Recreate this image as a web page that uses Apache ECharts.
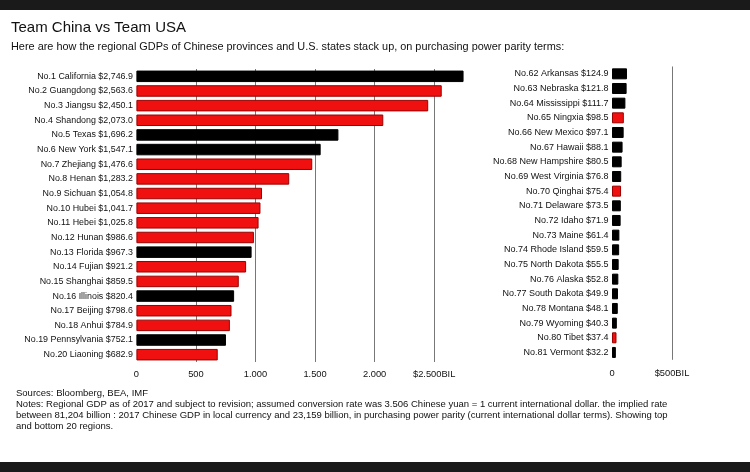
<!DOCTYPE html>
<html>
<head>
<meta charset="utf-8">
<script src="https://cdn.jsdelivr.net/npm/echarts@6/dist/echarts.min.js"></script>
<style>
html,body{margin:0;padding:0;background:#fff;}
#c{width:750px;height:472px;}
</style>
</head>
<body>
<div id="c"></div>
<script>
// ---- data ----
const topRanks = [1,2,3,4,5,6,7,8,9,10,11,12,13,14,15,16,17,18,19,20];
const topNames = ['California','Guangdong','Jiangsu','Shandong','Texas','New York','Zhejiang','Henan','Sichuan','Hubei','Hebei','Hunan','Florida','Fujian','Shanghai','Illinois','Beijing','Anhui','Pennsylvania','Liaoning'];
const topValues = [2746.9,2563.6,2450.1,2073.0,1696.2,1547.1,1476.6,1283.2,1054.8,1041.7,1025.8,986.6,967.3,921.2,859.5,820.4,798.6,784.9,752.1,682.9];
const topCountry = ['US','CN','CN','CN','US','US','CN','CN','CN','CN','CN','CN','US','CN','CN','US','CN','CN','US','CN'];

const bottomRanks = [62,63,64,65,66,67,68,69,70,71,72,73,74,75,76,77,78,79,80,81];
const bottomNames = ['Arkansas','Nebraska','Mississippi','Ningxia','New Mexico','Hawaii','New Hampshire','West Virginia','Qinghai','Delaware','Idaho','Maine','Rhode Island','North Dakota','Alaska','South Dakota','Montana','Wyoming','Tibet','Vermont'];
const bottomValues = [124.9,121.8,111.7,98.5,97.1,88.1,80.5,76.8,75.4,73.5,71.9,61.4,59.5,55.5,52.8,49.9,48.1,40.3,37.4,32.2];
const bottomCountry = ['US','US','US','CN','US','US','US','US','CN','US','US','US','US','US','US','US','US','US','CN','US'];

const topTickLabels = ['0','500','1.000','1.500','2.000','$2.500BIL'];
const bottomTickLabels = ['0','$500BIL'];
const tickStep = 500;

// ---- helpers ----
function fmt(v){
  const s = v.toFixed(1);
  const parts = s.split('.');
  parts[0] = parts[0].replace(/\B(?=(\d{3})+(?!\d))/g, ',');
  return '$' + parts.join('.');
}
function cats(ranks, names, values){
  return names.map((n,i)=>'No.' + ranks[i] + ' ' + n + ' ' + fmt(values[i]));
}
const RED = '#f01010', RED_B = '#9a0000', BLK = '#000';
function items(values, country){
  return values.map((v,i)=>({
    value: v,
    itemStyle: country[i]==='CN'
      ? {color: RED, borderColor: RED_B, borderWidth: 1}
      : {color: BLK, borderColor: BLK, borderWidth: 1}
  }));
}
function tickFmt(labels){
  return function(v){
    const k = Math.round(v / tickStep);
    return (Math.abs(v - k*tickStep) < 1e-6 && labels[k] !== undefined) ? labels[k] : '';
  };
}

const FONT = '"Liberation Sans", Arial, sans-serif';
const chart = echarts.init(document.getElementById('c'), null, {renderer:'canvas'});

const notes = 'Notes: Regional GDP as of 2017 and subject to revision; assumed conversion rate was 3.506 Chinese yuan = 1 current international dollar. the implied rate\n' +
  'between 81,204 billion : 2017 Chinese GDP in local currency and 23,159 billion, in purchasing power parity (current international dollar terms). Showing top\n' +
  'and bottom 20 regions.';

chart.setOption({
  animation: false,
  backgroundColor: '#fff',
  textStyle: {fontFamily: FONT},
  graphic: [
    {type:'rect', left:0, top:0, shape:{width:750, height:10}, style:{fill:'#1a1a1a'}},
    {type:'rect', left:0, top:462, shape:{width:750, height:10}, style:{fill:'#1a1a1a'}},
    {type:'text', left:11, top:20, style:{text:'Team China vs Team USA', fill:'#111', font:'15px ' + FONT}},
    {type:'text', left:11, top:41, style:{text:'Here are how the regional GDPs of Chinese provinces and U.S. states stack up, on purchasing power parity terms:', fill:'#111', font:'10.9px ' + FONT}},
    {type:'text', left:16, top:388, style:{text:'Sources: Bloomberg, BEA, IMF', fill:'#111', font:'9.5px ' + FONT}},
    {type:'text', left:16, top:399, style:{text:notes, fill:'#111', font:'9.5px ' + FONT, lineHeight:11}}
  ],
  grid: [
    {left:136.4, top:69, width:2750*0.1191, height:293},
    {left:612, top:66.5, width:60, height:293.3}
  ],
  xAxis: [
    {
      gridIndex:0, type:'value', min:0, max:2750, interval:tickStep,
      axisLine:{show:false}, axisTick:{show:false},
      splitLine:{show:true, showMinLine:false, showMaxLine:false, lineStyle:{color:'#777', width:1}},
      axisLabel:{show:true, showMaxLabel:false, margin:8, fontSize:9.3, color:'#111', fontFamily:FONT, formatter: tickFmt(topTickLabels)}
    },
    {
      gridIndex:1, type:'value', min:0, max:500, interval:tickStep,
      axisLine:{show:false}, axisTick:{show:false},
      splitLine:{show:true, showMinLine:false, showMaxLine:true, lineStyle:{color:'#777', width:1}},
      axisLabel:{show:true, margin:9, fontSize:9.3, color:'#111', fontFamily:FONT, formatter: tickFmt(bottomTickLabels)}
    }
  ],
  yAxis: [
    {
      gridIndex:0, type:'category', inverse:true, data: cats(topRanks, topNames, topValues),
      axisLine:{show:false}, axisTick:{show:false}, splitLine:{show:false},
      axisLabel:{margin:3.5, fontSize:8.9, color:'#111', fontFamily:FONT}
    },
    {
      gridIndex:1, type:'category', inverse:true, data: cats(bottomRanks, bottomNames, bottomValues),
      axisLine:{show:false}, axisTick:{show:false}, splitLine:{show:false},
      axisLabel:{margin:3.5, fontSize:9, color:'#111', fontFamily:FONT}
    }
  ],
  series: [
    {type:'bar', xAxisIndex:0, yAxisIndex:0, barWidth:11.5, data: items(topValues, topCountry)},
    {type:'bar', xAxisIndex:1, yAxisIndex:1, barWidth:11, data: items(bottomValues, bottomCountry)}
  ]
});
</script>
</body>
</html>
